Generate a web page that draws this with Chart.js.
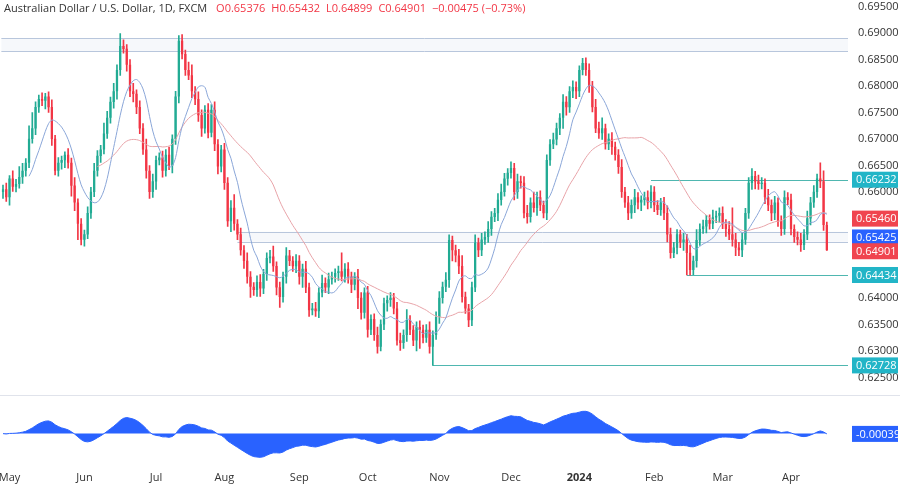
<!DOCTYPE html>
<html>
<head>
<meta charset="utf-8">
<script src="https://cdn.jsdelivr.net/npm/chart.js@4.4.1/dist/chart.umd.min.js"></script>
<style>
  html, body { margin: 0; padding: 0; background: #fff; }
  #wrap { width: 900px; height: 485px; position: relative; }
  #title { position: absolute; left: 4px; top: 0px; font: 11px 'Open Sans', sans-serif; color: #333; white-space: nowrap; }
  #title .v { color: #f23645; margin-left: 6px; }
</style>
</head>
<body>
<div id="wrap">
  <canvas id="c" width="900" height="485"></canvas>
  <div id="title">Australian Dollar / U.S. Dollar, 1D, FXCM <span class="v">O0.65376</span><span class="v">H0.65432</span><span class="v">L0.64899</span><span class="v">C0.64901</span><span class="v">−0.00475 (−0.73%)</span></div>
</div>
<script>
// daily closes AUD/USD, late Apr 2023 -> 16 Apr 2024
const closes = [
  0.6605,0.6590,0.6625,0.6610,
  0.6615,0.6628,0.6640,0.6655,0.6700,0.6720,0.6760,0.6775,0.6772,
  0.6780,0.6760,0.6700,0.6640,0.6655,0.6660,0.6670,0.6655,0.6612,
  0.6580,0.6540,0.6510,0.6520,0.6560,0.6600,0.6640,0.6668,
  0.6680,0.6710,0.6740,0.6770,0.6790,0.6830,0.6875,0.6870,0.6840,
  0.6790,0.6785,0.6760,0.6720,0.6680,0.6640,0.6600,0.6620,0.6660,0.6665,
  0.6640,0.6670,0.6650,0.6700,0.6780,0.6885,0.6860,0.6830,0.6820,0.6790,
  0.6775,0.6745,0.6720,0.6755,0.6712,0.6755,0.6690,0.6648,0.6680,0.6617,
  0.6545,0.6570,0.6540,0.6520,0.6490,0.6470,0.6440,0.6421,0.6415,0.6430,
  0.6418,0.6445,0.6475,0.6478,0.6460,0.6420,0.6402,0.6440,0.6480,0.6470,
  0.6460,0.6470,0.6440,0.6455,0.6420,0.6377,0.6380,0.6375,0.6410,0.6428,0.6420,0.6435,
  0.6440,0.6447,0.6450,0.6440,0.6455,0.6440,0.6425,0.6440,0.6400,0.6372,0.6410,
  0.6340,0.6360,0.6330,0.6308,0.6350,0.6390,0.6396,0.6400,0.6380,0.6320,
  0.6315,0.6330,0.6358,0.6340,0.6320,0.6345,0.6340,0.6325,0.6340,0.6308,
  0.6330,0.6364,0.6400,0.6421,0.6434,0.6509,0.6490,0.6480,0.6460,0.6402,
  0.6380,0.6358,0.6420,0.6504,0.6490,0.6510,0.6515,0.6530,0.6553,0.6560,
  0.6585,0.6600,0.6625,0.6636,0.6645,0.6600,0.6620,0.6617,0.6560,0.6553,
  0.6580,0.6570,0.6590,0.6575,0.6560,0.6660,0.6690,0.6699,0.6720,0.6740,0.6770,0.6760,
  0.6790,0.6798,0.6790,0.6830,0.6843,0.6830,0.6800,0.6760,0.6720,0.6711,
  0.6720,0.6690,0.6700,0.6685,0.6670,0.6647,0.6600,0.6580,0.6560,0.6575,
  0.6590,0.6580,0.6585,0.6590,0.6580,0.6600,0.6575,0.6566,0.6580,0.6560,
  0.6520,0.6485,0.6495,0.6520,0.6505,0.6510,0.6485,0.6453,0.6470,0.6509,
  0.6530,0.6535,0.6547,0.6540,0.6552,0.6555,0.6560,0.6540,0.6530,0.6520,
  0.6510,0.6495,0.6490,0.6510,0.6560,0.6617,0.6630,0.6620,0.6615,0.6617,
  0.6590,0.6575,0.6560,0.6580,0.6545,0.6530,0.6590,0.6585,0.6530,0.6515,
  0.6510,0.6500,0.6520,0.6550,0.6580,0.6600,0.6625,0.6620,0.65376,0.64901
];
// upper / lower wick beyond the body, in pips
const upWick = [
  8,12,6,15,9,20,14,8,25, 30,10,8,12,6,9,14,7,10,8,
  6,12,9,15,7,10,8,12,9,14, 10,8,20,12,9,15,10,24,12,8,
  10,15,8,12,9,20,10,14,8,9, 12,10,15,8,10,10,12,8,15,20,
  9,14,10,8,12,10,15,9,8,12, 10,14,25,8,12,9,15,10,8,12,
  14,9,10,12,20,8,10,9,15,10, 8,12,10,9,14,8,10,12,9,15,
  10,12,9,8,10,35,10,12,9,8, 14,10,9,12,8,10,15,9,10,8,
  10,9,12,14,10,20,9,8,10,12, 9,10,15,8,10,12,9,14,10,8,
  10,12,20,9,8,10,15,9,12,10, 14,10,9,12,15,10,8,12,9,14,
  10,12,15,9,20,10,12,8,10,9, 12,10,8,14,10,9,12,10,8,9,
  10,12,9,15,12,20,8,10,12,9, 10,14,9,12,10,15,9,8,10,12,
  12,10,9,8,10,14,12,10,9,8, 12,10,15,9,20,10,12,9,10,14,
  9,10,12,8,14,50,12,10,12,9, 10,14,9,12,10,8,15,10,12,9,
  10,12,9,11,8,
  10,12,9,14,10,12,9,30,20,6
];
const downWick = [
  12,8,15,9,10,8,12,10,9, 8,12,10,9,15,10,12,8,10,12,
  14,10,20,15,30,10,12,8,10,9, 10,12,8,9,10,12,15,10,8,12,
  10,15,12,10,9,14,12,10,15,9, 12,10,8,14,10,12,9,10,8,12,
  10,12,15,9,10,8,12,14,10,12, 10,20,12,10,9,14,12,20,10,12,
  15,10,12,9,10,14,20,10,12,9, 10,12,14,20,10,12,9,10,12,8,
  10,12,9,10,14,8,10,12,15,10, 20,12,10,14,9,10,12,8,10,15,
  12,10,9,14,10,12,9,10,20,35, 10,9,12,10,8,12,10,9,14,20,
  12,14,10,9,12,10,8,12,10,9, 10,12,9,14,10,8,12,10,15,12,
  10,9,12,10,8,14,10,9,12,10, 8,10,12,20,15,10,12,14,10,9,
  10,12,9,8,10,12,9,10,14,10, 12,10,9,12,10,14,12,15,10,12,
  10,12,9,10,12,14,10,9,12,10, 15,12,10,9,12,10,8,12,10,9,
  10,12,9,14,10,12,15,10,12,9, 10,12,14,10,9,12,10,14,12,10,
  12,10,9,11,10,
  10,12,9,10,12,9,10,12,10,0
];
// swing extremes: [candle index, low]
const swingLows = [[132, 0.62728], [210, 0.64434]];
const priceTicks = [0.625,0.630,0.635,0.640,0.645,0.650,0.655,0.660,0.665,0.670,0.675,0.680,0.685,0.690,0.695];
const levels = [0.66232, 0.64434, 0.62728];
const levelStart = [199, 210, 132];   // candle index where each teal level starts
const monthNames = ['Jan','Feb','Mar','Apr','May','Jun','Jul','Aug','Sep','Oct','Nov','Dec'];
const rightPad = 6;                   // empty slots after the last candle

// trading-day labels back from 16 Apr 2024
const dates = [];
let d = new Date(Date.UTC(2024, 3, 16));
while (dates.length < closes.length) {
  const wd = d.getUTCDay();
  if (wd !== 0 && wd !== 6) dates.unshift(new Date(d));
  d = new Date(d.getTime() - 86400000);
}
const labels = dates.map(x => x.toISOString().slice(0, 10));
for (let i = 0; i < rightPad; i++) labels.push('');

const opens = closes.map((c, i) => i === 0 ? 0.6600 : closes[i - 1]);
const highs = closes.map((c, i) => Math.max(c, opens[i]) + upWick[i] / 10000);
const lows = closes.map((c, i) => Math.min(c, opens[i]) - downWick[i] / 10000);
highs[closes.length - 1] = 0.65432; lows[closes.length - 1] = 0.64899;
swingLows.forEach(([i, v]) => { lows[i] = Math.min(v, opens[i], closes[i]); });

const GREEN = '#22ab94', RED = '#f23645';
const colors = closes.map((c, i) => c >= opens[i] ? GREEN : RED);

function sma(n) {
  return closes.map((c, i) => i < n - 1 ? null : closes.slice(i - n + 1, i + 1).reduce((a, b) => a + b, 0) / n);
}
function ema(n) {
  const k = 2 / (n + 1); let e = closes[0];
  return closes.map(c => (e = c * k + e * (1 - k)));
}
const fast = sma(9), slow = sma(30);
const e12 = ema(12), e26 = ema(26);
const osc = closes.map((c, i) => e12[i] - e26[i]);

const overlay = {
  id: 'overlay',
  beforeDatasetsDraw(chart) {
    const { ctx, chartArea: a, scales: { x, y } } = chart;
    ctx.save();
    const band = (p1, p2, x0) => {
      const y1 = y.getPixelForValue(p1), y2 = y.getPixelForValue(p2);
      ctx.fillStyle = 'rgba(178,195,220,0.12)';
      ctx.fillRect(x0, y1, a.right - x0, y2 - y1);
      ctx.strokeStyle = '#b8c6dc'; ctx.lineWidth = 1;
      [y1, y2].forEach(v => { ctx.beginPath(); ctx.moveTo(x0, Math.round(v) + 0.5); ctx.lineTo(a.right, Math.round(v) + 0.5); ctx.stroke(); });
    };
    band(0.6890, 0.6866, a.left);
    band(0.6525, 0.6506, x.getPixelForValue(72));
    ctx.strokeStyle = '#4fb7b0'; ctx.lineWidth = 1;
    levels.forEach((p, i) => {
      const yy = Math.round(y.getPixelForValue(p)) + 0.5;
      ctx.beginPath(); ctx.moveTo(x.getPixelForValue(levelStart[i]), yy); ctx.lineTo(a.right, yy); ctx.stroke();
    });
    const sep = chart.scales.y2.top - 2;
    ctx.strokeStyle = '#e0e3eb';
    ctx.beginPath(); ctx.moveTo(0, sep + 0.5); ctx.lineTo(900, sep + 0.5); ctx.stroke();
    ctx.restore();
  },
  afterDraw(chart) {
    const { ctx, scales: { y, y2 } } = chart;
    ctx.save();
    ctx.font = '11px "Open Sans"'; ctx.textAlign = 'left'; ctx.textBaseline = 'middle';
    ctx.fillStyle = '#333';
    priceTicks.forEach(v => ctx.fillText(v.toFixed(5), 858, y.getPixelForValue(v)));
    const tag = (bg, txt, py) => {
      ctx.fillStyle = bg; ctx.fillRect(852, py - 8, 46, 16);
      ctx.fillStyle = '#fff'; ctx.fillText(txt, 856, py + 0.5);
    };
    tag('#22b5c7', '0.66232', y.getPixelForValue(0.66232));
    tag('#f0444f', '0.65460', y.getPixelForValue(0.6546) - 2);
    tag('#2962ff', '0.65425', y.getPixelForValue(0.65425) + 15);
    tag('#f0444f', '0.64901', y.getPixelForValue(0.64901) + 1);
    tag('#22b5c7', '0.64434', y.getPixelForValue(0.64434));
    tag('#22b5c7', '0.62728', y.getPixelForValue(0.62728));
    tag('#2962ff', '-0.00039', y2.getPixelForValue(osc[osc.length - 1]));
    ctx.restore();
  }
};

new Chart(document.getElementById('c'), {
  type: 'bar',
  data: {
    labels,
    datasets: [
      { type: 'line', data: fast, borderColor: '#8aa6d8', borderWidth: 1, pointRadius: 0, tension: 0.3, yAxisID: 'y' },
      { type: 'line', data: slow, borderColor: '#e8a3a8', borderWidth: 1, pointRadius: 0, tension: 0.3, yAxisID: 'y' },
      { data: lows.map((l, i) => [l, highs[i]]), backgroundColor: colors, barThickness: 1, grouped: false, yAxisID: 'y' },
      { data: closes.map((c, i) => [Math.min(c, opens[i]), Math.max(c, opens[i]) + 0.00003]), backgroundColor: colors, barPercentage: 0.7, categoryPercentage: 1, grouped: false, yAxisID: 'y' },
      { type: 'line', data: osc, borderColor: '#2962ff', backgroundColor: '#2962ff', borderWidth: 1, pointRadius: 0, fill: 'origin', yAxisID: 'y2' },
    ],
  },
  options: {
    responsive: false,
    animation: false,
    layout: { padding: 0 },
    plugins: { legend: { display: false }, tooltip: { enabled: false } },
    scales: {
      x: {
        grid: { display: false }, border: { display: false },
        afterFit: (s) => { s.height = 25; },
        ticks: {
          autoSkip: false, maxRotation: 0, color: '#333', padding: 3,
          font: (c) => ({ family: 'Open Sans', size: 11, weight: dates[c.index] && dates[c.index].getUTCMonth() === 0 ? 'bold' : 'normal' }),
          callback: (v, i) => {
            if (i === 0 || !dates[i] || dates[i].getUTCMonth() === dates[i - 1].getUTCMonth()) return '';
            const m = dates[i].getUTCMonth();
            return m === 0 ? String(dates[i].getUTCFullYear()) : monthNames[m];
          },
        },
      },
      y: {
        position: 'right', stack: 'p', stackWeight: 6.3, min: 0.62132, max: 0.69623,
        grid: { display: false }, border: { display: false },
        afterFit: (s) => { s.width = 52; },
        ticks: { display: false },
      },
      y2: {
        position: 'right', stack: 'p', stackWeight: 1,
        min: -0.009, max: 0.0125,
        grid: { display: false }, border: { display: false },
        afterFit: (s) => { s.width = 52; },
        ticks: { display: false },
      },
    },
  },
  plugins: [overlay],
});
</script>
</body>
</html>
